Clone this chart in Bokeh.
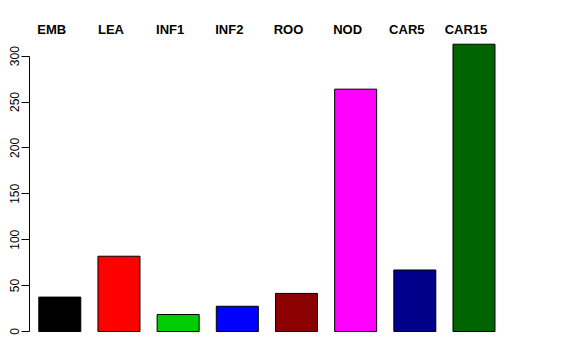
import math
from bokeh.plotting import figure
from bokeh.models import ColumnDataSource, Range1d, FixedTicker
from bokeh.core.properties import value
from bokeh.embed import file_html
from bokeh.resources import INLINE

categories = ["EMB", "LEA", "INF1", "INF2", "ROO", "NOD", "CAR5", "CAR15"]
counts = [37.5, 82, 18.5, 27.5, 41.5, 264, 67, 313]
colors = ["#000000", "#FF0000", "#00CD00", "#0000FF", "#8B0000", "#FF00FF", "#00008B", "#006400"]
y_ticks = [0, 50, 100, 150, 200, 250, 300]

xs = list(range(len(categories)))
src = ColumnDataSource(dict(x=xs, top=counts, color=colors, name=categories))

p = figure(width=576, height=360, output_backend="svg", toolbar_location=None,
           x_axis_location=None,
           x_range=Range1d(-0.512, 8.124), y_range=Range1d(-15.25, 349.7),
           min_border_left=29, min_border_right=36, min_border_top=10, min_border_bottom=15)
p.outline_line_color = None
p.xgrid.visible = False
p.ygrid.visible = False
p.background_fill_color = "white"
p.border_fill_color = "white"

p.vbar(x="x", top="top", bottom=0, width=0.71, fill_color="color",
       line_color="#000000", line_width=1, source=src)

p.text(x="x", y=349.7, text="name", source=src, x_offset=-8, y_offset=19,
       text_font=value("Liberation Sans"), text_font_style="bold",
       text_font_size="13px", text_align="center", text_baseline="middle",
       text_color="#000000")

ax = p.yaxis[0]
ax.ticker = FixedTicker(ticks=y_ticks)
ax.bounds = (0, 300)
ax.axis_line_color = "#000000"
ax.major_tick_line_color = "#000000"
ax.major_tick_out = 8
ax.major_tick_in = 0
ax.minor_tick_line_color = None
ax.major_label_orientation = "vertical"
ax.major_label_standoff = 2
ax.major_label_text_font = "Liberation Sans"
ax.major_label_text_font_size = "12px"
ax.major_label_text_color = "#000000"

open("out.html", "w").write(file_html(p, INLINE))
